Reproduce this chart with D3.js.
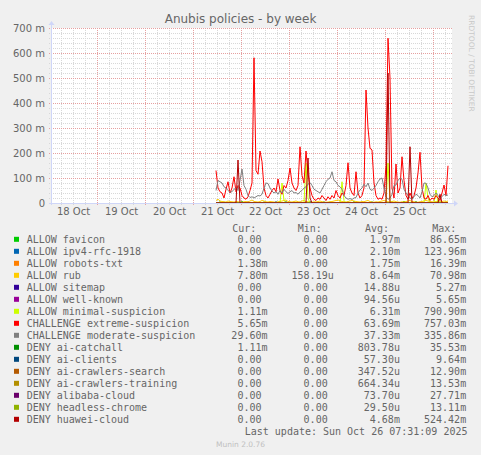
<!DOCTYPE html>
<html><head><meta charset="utf-8">
<script src="https://cdn.jsdelivr.net/npm/d3@7"></script>
<style>body{margin:0;background:#F0F0F0;} svg{display:block}</style>
</head><body><svg id="c" width="481" height="455"></svg>
<script>
// ---------- data ----------
const title = "Anubis policies - by week";
const seriesStart = new Date(2025, 9, 21, 11, 30); // first sample
const stepHours = 1;
const yTicks = [0, 100, 200, 300, 400, 500, 600, 700];
const dayLabels = ["18 Oct", "19 Oct", "20 Oct", "21 Oct", "22 Oct", "23 Oct", "24 Oct", "25 Oct"];

const names = ["ALLOW favicon","ALLOW ipv4-rfc-1918","ALLOW robots-txt","ALLOW rub","ALLOW sitemap","ALLOW well-known",
  "ALLOW minimal-suspicion","CHALLENGE extreme-suspicion","CHALLENGE moderate-suspicion","DENY ai-catchall","DENY ai-clients",
  "DENY ai-crawlers-search","DENY ai-crawlers-training","DENY alibaba-cloud","DENY headless-chrome","DENY huawei-cloud"];
const colors = ["#00CC00","#0066B3","#FF8000","#FFCC00","#330099","#990099","#CCFF00","#FF0000","#808080","#008F00",
  "#00487D","#B35A00","#B38F00","#6B006B","#8FB300","#B30000"];
const curVals = ["0.00","0.00","1.38m","7.80m","0.00","0.00","1.11m","5.65m","29.60m","1.11m","0.00","0.00","0.00","0.00","0.00","0.00"];
const minVals = ["0.00","0.00","0.00","158.19u","0.00","0.00","0.00","0.00","0.00","0.00","0.00","0.00","0.00","0.00","0.00","0.00"];
const avgVals = ["1.97m","2.10m","1.75m","8.64m","14.88u","94.56u","6.31m","63.69m","37.33m","803.78u","57.30u","347.52u","664.34u","73.70u","29.50u","4.68m"];
const maxVals = ["86.65m","123.96m","16.39m","70.98m","5.27m","5.65m","790.90m","757.03m","335.86m","35.53m","9.64m","12.90m","13.53m","27.71m","13.11m","524.42m"];

// series values (milli-units, hourly samples)
const favicon = [0,0,5,0,0,0,0,3,0,0, 0,0,0,6,0,0,0,0,0,0, 0,0,0,0,4,0,0,0,0,0, 0,0,8,0,0,0,0,0,0,0,
  0,0,0,0,0,5,0,0,0,0, 0,0,0,0,0,0,0,4,0,0, 0,0,0,0,0,0,0,0,0,6, 0,0,0,0,0,0,0,0,0,0,
  0,0,0,0,0,0,0,0,0,0, 0,0,0,0,7,0,0,0,0,0, 0,0,0,0,0,0,0,0,0,0, 0,0,5,0,0,0,0];
const ipv4 = [0,0,0,0,0,0,0,0,0,0, 0,0,0,0,0,0,0,0,0,0, 0,0,0,0,0,0,0,0,0,0, 6,0,0,0,0,0,0,0,0,0,
  0,0,0,0,0,0,0,8,0,0, 0,0,0,0,0,0,0,0,0,0, 0,0,0,0,0,0,0,0,0,0, 0,0,0,0,0,0,0,0,0,0,
  0,0,0,0,0,0,0,0,0,0, 0,0,0,0,0,0,0,0,0,0, 0,0,0,0,0,0,0,0,0,0, 0,0,0,0,0,0,0];
const robots = [2,0,0,3,0,0,2,0,0,0, 4,0,0,0,2,0,0,0,3,0, 0,0,2,0,0,0,0,3,0,0, 0,2,0,0,0,4,0,0,0,0,
  2,0,0,0,3,0,0,0,2,0, 0,0,0,3,0,0,0,2,0,0, 0,0,4,0,0,0,2,0,0,0, 3,0,0,0,0,2,0,0,0,3,
  0,0,2,0,0,0,3,0,0,0, 2,0,0,0,0,3,0,0,2,0, 0,0,3,0,0,0,2,0,0,0, 3,0,0,2,0,0,1];
const rub = [10,15,8,6,5,4,8,6,5,4, 6,5,4,3,5,6,4,8,12,6, 5,4,6,10,8,5,4,6,5,4, 3,5,6,8,10,12,6,5,4,6,
  8,5,4,8,10,6,5,4,3,5, 4,6,8,5,4,3,4,5,6,8, 10,12,9,6,5,4,6,8,10,8, 6,5,4,6,5,8,10,6,4,3,
  5,4,6,8,10,6,5,4,6,8, 5,4,3,5,4,6,8,10,6,5, 4,3,5,6,8,10,8,6,5,4, 6,8,7,6,8,6,8];
const sitemap = [0,0,0,0,0,0,0,0,0,0, 0,0,0,0,0,0,0,0,0,0, 0,0,0,0,0,0,0,0,0,0, 0,0,0,0,0,0,0,0,0,0,
  0,0,0,0,0,0,0,0,0,0, 0,0,0,0,0,0,0,0,0,0, 0,0,0,0,0,0,0,0,0,0, 0,0,0,0,0,0,0,0,0,0,
  0,0,0,0,0,0,0,0,0,0, 0,0,0,0,0,0,0,0,0,0, 0,0,0,0,0,0,0,0,0,0, 0,0,0,0,0,0,0];
const wellKnown = sitemap.slice();
const minimal = [2,0,1,0,0,2,0,0,1,0, 0,0,2,0,0,0,1,0,0,2, 0,0,0,1,0,0,0,2,0,0, 0,0,1,80,10,0,0,1,0,0,
  2,0,0,0,1,160,20,0,0,0, 1,0,0,2,0,0,0,1,0,0, 2,0,0,85,10,0,0,1,0,0, 0,2,0,0,0,1,0,0,0,2,
  0,0,1,0,0,0,160,10,0,0, 1,0,0,0,2,0,0,0,1,0, 0,2,0,0,0,80,20,0,0,1, 52,0,0,1,0,0,1];
const extreme = [130,60,45,40,20,55,85,40,60,105, 45,70,60,30,20,15,25,50,80,581, 130,115,208,165,60,30,20,35,50,60,
  45,96,50,35,70,60,90,140,80,60, 50,70,225,110,80,208,120,60,30,15, 10,20,15,30,20,10,25,15,30,20,
  50,30,20,40,30,70,161,60,40,30, 125,40,20,30,60,452,300,219,212,80, 30,15,20,15,40,150,659,500,60,20,
  156,40,60,185,90,30,15,40,20,30, 60,120,203,60,20,15,30,10,20,15, 30,20,10,40,72,30,149];
const moderate = [50,90,85,80,65,60,50,44,45,55, 60,50,90,136,70,55,30,22,25,20, 25,30,28,35,60,80,78,60,48,40,
  45,35,50,40,55,45,38,45,50,40, 42,35,45,50,60,65,75,82,70,55, 50,45,40,55,70,85,95,100,125,90,
  85,70,65,55,30,20,15,18,14,20, 22,40,52,60,75,65,80,55,50,60, 70,85,96,100,60,25,15,20,35,70,
  72,90,100,95,55,40,30,20,15,25, 35,30,20,45,80,79,60,35,25,30, 40,30,20,25,35,30,32];
const catchall = [0,2,0,0,3,0,0,0,2,0, 0,0,0,4,0,0,0,0,2,0, 0,0,0,0,3,0,0,0,0,0, 2,0,0,0,0,5,0,0,0,0,
  0,0,3,0,0,0,0,2,0,0, 0,0,0,0,4,0,0,0,0,0, 2,0,0,0,0,0,3,0,0,0, 0,0,2,0,0,0,0,0,4,0,
  0,0,0,2,0,0,0,0,3,0, 0,0,0,0,0,2,0,0,0,0, 5,0,0,0,0,0,2,0,0,0, 0,4,0,0,0,0,3];
const aiClients = sitemap.slice();
const crawlSearch = [0,0,0,0,0,0,0,0,0,0, 0,0,0,0,0,0,4,0,0,0, 0,0,0,0,0,0,0,0,0,0, 0,0,0,0,0,0,0,0,0,0,
  0,0,0,0,0,0,0,0,0,0, 0,0,0,0,0,0,0,0,0,0, 0,0,0,0,0,0,0,0,0,0, 0,0,0,0,0,0,0,0,0,0,
  0,0,0,0,0,0,0,0,0,0, 0,0,0,0,0,0,0,0,0,0, 0,0,0,0,0,0,0,0,0,0, 0,0,0,0,0,0,0];
const crawlTraining = [0,0,0,0,0,0,0,0,0,0, 0,0,0,0,0,0,0,0,0,0, 0,0,0,0,0,0,0,0,0,0, 0,0,0,0,0,0,0,0,0,0,
  0,0,0,0,0,0,0,0,0,0, 0,0,0,0,0,0,0,0,0,0, 0,0,0,0,0,0,0,0,0,0, 0,0,0,0,0,0,0,0,0,0,
  0,0,0,0,0,0,0,0,0,0, 0,0,0,0,0,0,0,0,0,0, 0,0,0,0,0,0,0,0,0,0, 0,0,0,0,0,0,0];
const alibaba = sitemap.slice();
const headless = sitemap.slice();
const huawei = [0,0,0,0,0,0,0,0,0,0, 0,172,0,0,0,0,0,0,0,0, 0,0,0,0,0,0,0,0,0,0, 0,0,0,0,0,0,0,0,0,0,
  0,0,0,0,0,0,180,20,0,0, 0,0,0,0,0,0,0,0,0,0, 0,0,0,0,0,0,0,0,0,0, 0,0,0,0,0,0,0,0,0,0,
  0,0,0,0,0,0,520,0,0,0, 0,0,0,0,0,0,0,225,0,0, 0,0,0,0,0,0,0,0,0,0, 0,0,35,0,0,0,0];
const seriesData = [favicon, ipv4, robots, rub, sitemap, wellKnown, minimal, extreme, moderate, catchall,
  aiClients, crawlSearch, crawlTraining, alibaba, headless, huawei];

// ---------- layout ----------
const svg = d3.select("#c");
const W = 481, H = 455;
const pL = 51, pR = 451, pT = 28, pB = 203;
const x = d3.scaleTime().domain([new Date(2025, 9, 18, 1, 0), new Date(2025, 9, 26, 9, 0)]).range([pL, pR]);
const y = d3.scaleLinear().domain([0, 700]).range([pB, pT]);

svg.append("rect").attr("width", W).attr("height", H).attr("fill", "#F0F0F0");
svg.append("rect").attr("x", pL).attr("y", pT).attr("width", pR - pL + 1).attr("height", pB - pT)
  .attr("fill", "#FFFFFF");

// grid
const g = svg.append("g").attr("shape-rendering", "crispEdges");
const minorY = d3.range(0, 701, 20).filter(v => v % 100 !== 0);
g.selectAll("line.hm").data(minorY).join("line")
  .attr("x1", pL - 2).attr("x2", pR + 1).attr("y1", d => Math.round(y(d)) + 0.5).attr("y2", d => Math.round(y(d)) + 0.5)
  .attr("stroke", "#d8d8d8").attr("stroke-dasharray", "1,1");
const hours6 = d3.timeHour.every(6).range(x.domain()[0], x.domain()[1]).filter(d => d.getHours() !== 0);
g.selectAll("line.vm").data(hours6).join("line")
  .attr("x1", d => Math.round(x(d)) + 0.5).attr("x2", d => Math.round(x(d)) + 0.5)
  .attr("y1", pT).attr("y2", pB + 2)
  .attr("stroke", "#d8d8d8").attr("stroke-dasharray", "1,1");
g.selectAll("line.hM").data(yTicks.filter(v => v > 0)).join("line")
  .attr("x1", pL - 2).attr("x2", pR + 1).attr("y1", d => Math.round(y(d)) + 0.5).attr("y2", d => Math.round(y(d)) + 0.5)
  .attr("stroke", "#e6a0a0").attr("stroke-dasharray", "1,1");
const days = d3.timeDay.range(x.domain()[0], x.domain()[1]);
g.selectAll("line.vM").data(days).join("line")
  .attr("x1", d => Math.round(x(d)) + 0.5).attr("x2", d => Math.round(x(d)) + 0.5)
  .attr("y1", pT).attr("y2", pB + 3)
  .attr("stroke", "#e6a0a0").attr("stroke-dasharray", "1,1");

// series lines
const line = d3.line().x(d => x(d.t)).y(d => y(d.v));
const plot = svg.append("g");
seriesData.forEach((arr, k) => {
  const pts = arr.map((v, i) => ({ t: new Date(+seriesStart + i * stepHours * 3600e3), v }));
  plot.append("path").datum(pts).attr("d", line).attr("fill", "none")
    .attr("stroke", colors[k]).attr("stroke-width", 1);
});

// axes lines + arrows
const axisCol = "#CFD6F8";
svg.append("line").attr("x1", pL - 2).attr("x2", pR + 3).attr("y1", pB + 0.5).attr("y2", pB + 0.5)
  .attr("stroke", axisCol).attr("shape-rendering", "crispEdges");
svg.append("line").attr("x1", pL + 0.5).attr("x2", pL + 0.5).attr("y1", pB + 2).attr("y2", pT - 4)
  .attr("stroke", axisCol).attr("shape-rendering", "crispEdges");
svg.append("path").attr("d", `M${pR + 3},${pB - 2.5} L${pR + 7},${pB + 0.5} L${pR + 3},${pB + 3.5} Z`).attr("fill", axisCol);
svg.append("path").attr("d", `M${pL - 2.5},${pT - 3} L${pL + 0.5},${pT - 7} L${pL + 3.5},${pT - 3} Z`).attr("fill", axisCol);

// axis labels
const fontCol = "#666666";
const yAxis = d3.axisLeft(y).tickValues(yTicks).tickSize(0).tickPadding(0)
  .tickFormat(v => v === 0 ? "0" : v + " m");
const ya = svg.append("g").attr("transform", `translate(${pL - 6},0)`).call(yAxis);
ya.select(".domain").remove();
ya.selectAll("text").attr("font-family", "DejaVu Sans").attr("font-size", 10).attr("fill", fontCol);

const noons = dayLabels.map((s, i) => new Date(2025, 9, 18 + i, 12, 0));
const xAxis = d3.axisBottom(x).tickValues(noons).tickSize(0).tickPadding(0)
  .tickFormat((d, i) => dayLabels[i]);
const xa = svg.append("g").attr("transform", `translate(0,${pB + 5})`).call(xAxis);
xa.select(".domain").remove();
xa.selectAll("text").attr("font-family", "DejaVu Sans").attr("font-size", 10).attr("fill", fontCol);

// title
svg.append("text").attr("x", 240.5).attr("y", 23).attr("text-anchor", "middle")
  .attr("font-family", "DejaVu Sans").attr("font-size", 12).attr("fill", fontCol).text(title);

// watermark
svg.append("text").attr("transform", "translate(469,15) rotate(90)")
  .attr("font-family", "DejaVu Sans").attr("font-size", 7.5).attr("fill", "#c8c8c8")
  .text("RRDTOOL / TOBI OETIKER");

// legend
const mono = "DejaVu Sans Mono";
const x0 = 26.7, cw = 6.02;
const lg = svg.append("g").attr("font-family", mono).attr("font-size", 10).attr("fill", fontCol);
[["Cur:", 232.3], ["Min:", 297.7], ["Avg:", 365], ["Max:", 432.3]].forEach(([t, px]) => {
  lg.append("text").attr("x", px).attr("y", 231.8).text(t);
});
function valText(s, endIdx, yy) {
  const m = s.match(/^([\d.]+)(\D?)$/);
  const ex = x0 + endIdx * cw;
  lg.append("text").attr("x", ex).attr("y", yy).attr("text-anchor", "end").text(m[1]);
  if (m[2]) lg.append("text").attr("x", ex).attr("y", yy).text(m[2]);
}
names.forEach((n, k) => {
  const cy = 239.3 + 12 * k;
  const by = cy + 3.5;
  svg.append("rect").attr("x", 14).attr("y", cy - 2.5).attr("width", 5).attr("height", 5).attr("fill", colors[k]);
  lg.append("text").attr("x", x0).attr("y", by).text(n);
  valText(curVals[k], 39, by);
  valText(minVals[k], 50, by);
  valText(avgVals[k], 61, by);
  valText(maxVals[k], 72, by);
});
lg.append("text").attr("x", 467.5).attr("y", 431.5 + 3.5).attr("text-anchor", "end")
  .text("Last update: Sun Oct 26 07:31:09 2025");
svg.append("text").attr("x", 240.5).attr("y", 447).attr("text-anchor", "middle")
  .attr("font-family", "DejaVu Sans").attr("font-size", 7.5).attr("fill", "#c0c0c0").text("Munin 2.0.76");
</script></body></html>
